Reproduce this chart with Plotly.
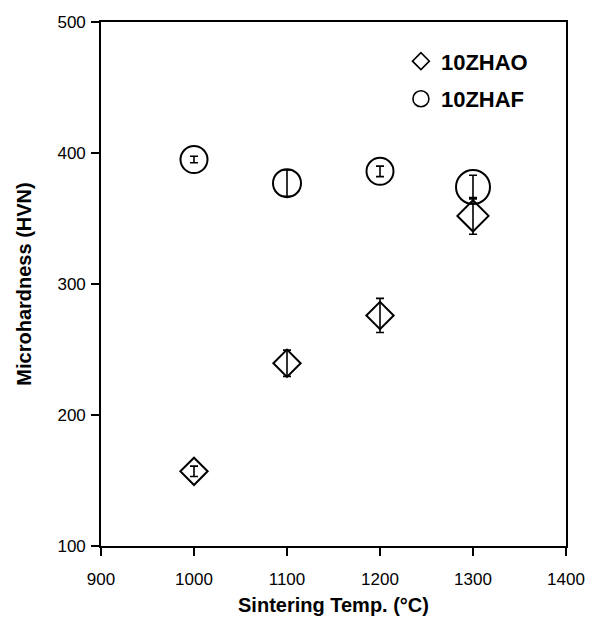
import plotly.graph_objects as go

# Data
temps = [1000, 1100, 1200, 1300]
zhao_hv = [157, 239.5, 276, 352]
zhao_err = [4, 10, 13, 14]
zhaf_hv = [395, 377, 386, 374]
zhaf_err = [2.5, 10, 4, 9]
names = ["10ZHAO", "10ZHAF"]
x_ticks = [900, 1000, 1100, 1200, 1300, 1400]
y_ticks = [100, 200, 300, 400, 500]

FONT = "Liberation Sans, Arial, sans-serif"

fig = go.Figure()

err_style = dict(type="data", color="black", thickness=1.6, width=4)

fig.add_trace(go.Scatter(
    x=temps, y=zhao_hv, mode="markers", showlegend=False,
    error_y=dict(array=zhao_err, **err_style),
    marker=dict(symbol="diamond-open", size=[21, 21, 21, 24], color="black", opacity=1,
                line=dict(color="black", width=2)),
))
fig.add_trace(go.Scatter(
    x=temps, y=zhaf_hv, mode="markers", showlegend=False,
    error_y=dict(array=zhaf_err, **err_style),
    marker=dict(symbol="circle-open", size=[27, 28, 27, 34], color="black", opacity=1,
                line=dict(color="black", width=2)),
))

# legend entries
fig.add_trace(go.Scatter(
    x=[None], y=[None], mode="markers", name=names[0], legendgroup="a",
    marker=dict(symbol="diamond-open", size=13, color="black",
                line=dict(color="black", width=1.6)),
))
fig.add_trace(go.Scatter(
    x=[None], y=[None], mode="markers", name=names[1], legendgroup="b",
    marker=dict(symbol="circle-open", size=16, color="black",
                line=dict(color="black", width=1.6)),
))

axis_common = dict(
    showline=True, linecolor="black", linewidth=1.6, mirror=True,
    ticks="outside", ticklen=8, tickwidth=1.6, tickcolor="black",
    showgrid=False, zeroline=False, automargin=False,
    tickfont=dict(family=FONT, size=17, color="black"),
)

fig.update_layout(
    width=599, height=619,
    margin=dict(l=101, r=33, t=22, b=73),
    paper_bgcolor="white", plot_bgcolor="white",
    font=dict(family=FONT, color="black"),
    xaxis=dict(range=[900, 1400], tickvals=x_ticks, ticklabelstandoff=9,
               title=dict(text="<b>Sintering Temp. (°C)</b>", font=dict(family=FONT, size=20), standoff=10),
               **axis_common),
    yaxis=dict(range=[100, 500], tickvals=y_ticks, ticklabelstandoff=2,
               title=dict(text="<b>Microhardness (HVN)</b>", font=dict(family=FONT, size=20), standoff=20),
               **axis_common),
    legend=dict(x=0.645, y=0.965, xanchor="left", yanchor="top",
                font=dict(family=FONT, size=22, color="black", weight="bold"),
                bgcolor="rgba(0,0,0,0)", tracegroupgap=6, traceorder="grouped",
                itemsizing="trace"),
)

fig.write_html("out.html")
